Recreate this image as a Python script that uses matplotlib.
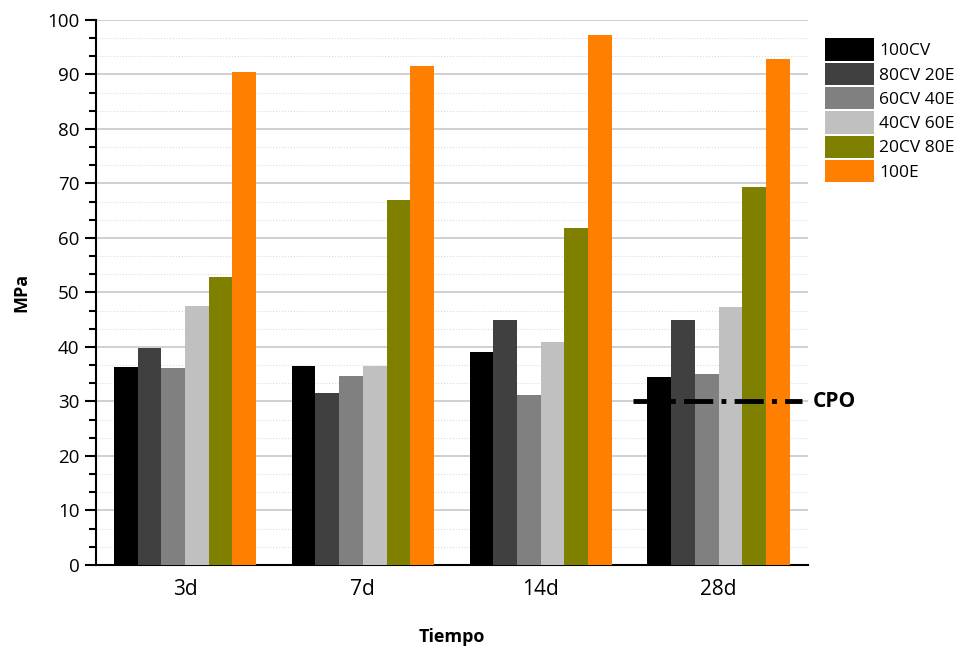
import numpy as np
import matplotlib.pyplot as plt
from matplotlib.ticker import MultipleLocator

# data
dias = ['3d', '7d', '14d', '28d']
mezclas = ['100CV', '80CV 20E', '60CV 40E', '40CV 60E', '20CV 80E', '100E']
colores = ['#000000', '#404040', '#808080', '#c0c0c0', '#808000', '#ff8000']

mpa_100cv = [36.3, 36.5, 39.1, 34.5]
mpa_80cv_20e = [39.9, 31.6, 45.0, 45.0]
mpa_60cv_40e = [36.2, 34.7, 31.2, 35.0]
mpa_40cv_60e = [47.5, 36.6, 40.9, 47.3]
mpa_20cv_80e = [52.8, 67.0, 61.8, 69.4]
mpa_100e = [90.5, 91.6, 97.3, 92.8]
series = [mpa_100cv, mpa_80cv_20e, mpa_60cv_40e, mpa_40cv_60e, mpa_20cv_80e, mpa_100e]

# CPO reference level and the span it is drawn over (in category units)
cpo_valor = 30
cpo_desde = 2.52
cpo_hasta = 3.47

plt.rcParams['font.family'] = ['Open Sans', 'DejaVu Sans']

fig = plt.figure(figsize=(9.66, 6.53), dpi=100)
ax = fig.add_axes([0.0994, 0.1348, 0.7366, 0.8346])

x = np.arange(len(dias))
ancho = 0.8 / len(series)
for i, (vals, col, nom) in enumerate(zip(series, colores, mezclas)):
    ax.bar(x - 0.4 + ancho * (i + 0.5), vals, ancho, color=col, label=nom, zorder=3)

# CPO dash-dot line
ax.plot([cpo_desde, cpo_hasta], [cpo_valor, cpo_valor], color='black', lw=3.5,
        linestyle=(0, (6, 1.7, 1, 1.7)), dash_capstyle='butt',
        zorder=4, clip_on=False)
ax.text(cpo_hasta + 0.06, cpo_valor, 'CPO', fontsize=15, fontweight='bold',
        va='center', ha='left')

ax.set_xlim(-0.5, 3.5)
ax.set_ylim(0, 100)
ax.set_xticks(x)
ax.set_xticklabels(dias, fontsize=15)
ax.tick_params(axis='x', length=0, pad=10)
ax.yaxis.set_major_locator(MultipleLocator(10))
ax.yaxis.set_minor_locator(MultipleLocator(10 / 3))
ax.tick_params(axis='y', which='major', length=8, width=1.5, labelsize=13.5, pad=4)
ax.tick_params(axis='y', which='minor', length=5, width=1.5)

ax.grid(axis='y', which='major', color='#c8c8c8', lw=1.2, zorder=0)
ax.grid(axis='y', which='minor', color='#dcdcdc', lw=0.8, linestyle=':', zorder=0)

for s in ['top', 'right']:
    ax.spines[s].set_visible(False)
ax.spines['left'].set_linewidth(1.5)
ax.spines['bottom'].set_linewidth(1.5)

ax.set_ylabel('MPa', fontsize=13, fontweight='bold', labelpad=12)
ax.set_xlabel('Tiempo', fontsize=13, fontweight='bold', labelpad=20)

ax.legend(loc='upper left', bbox_to_anchor=(1.015, 0.979), frameon=False, fontsize=12.5,
          handlelength=2.82, handleheight=1.6, handletextpad=0.29, labelspacing=0.115,
          borderaxespad=0)

fig.savefig('out.png', dpi=100)
